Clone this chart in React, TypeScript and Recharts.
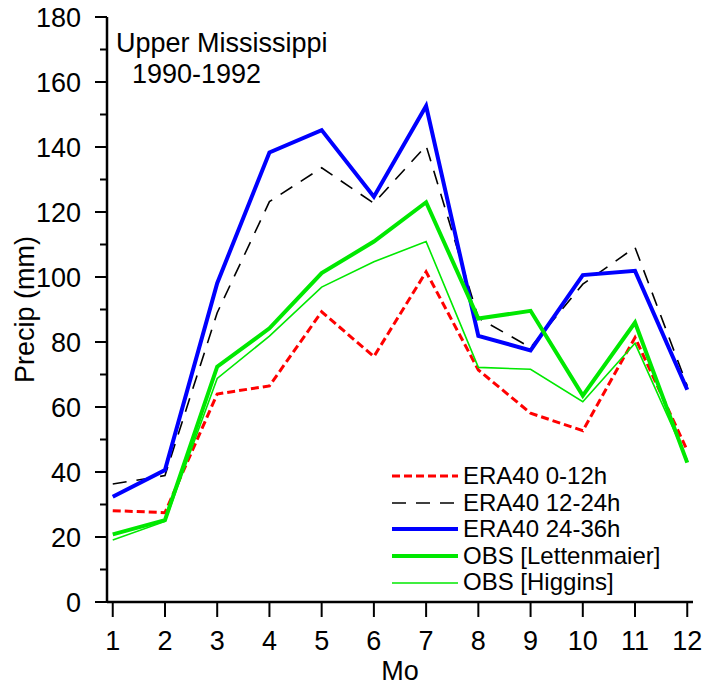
import { LineChart, Line, XAxis, YAxis, Label } from 'recharts';

const months = [1, 2, 3, 4, 5, 6, 7, 8, 9, 10, 11, 12];
const era0to12 = [28.1, 27.5, 64.0, 66.5, 89.3, 75.5, 101.6, 71.4, 58.1, 52.7, 81.4, 46.6];
const era12to24 = [36.3, 38.9, 89.0, 123.2, 133.6, 122.7, 140.4, 87.4, 78.3, 97.8, 109.1, 66.5];
const era24to36 = [32.4, 40.6, 98.1, 138.3, 145.2, 124.7, 152.6, 81.9, 77.4, 100.6, 101.9, 65.3];
const obsLettenmaier = [20.8, 25.2, 72.4, 84.2, 101.2, 110.9, 123.0, 87.2, 89.6, 63.5, 86.0, 42.9];
const obsHiggins = [19.1, 24.8, 68.8, 81.8, 96.9, 104.7, 110.9, 72.2, 71.6, 61.6, 79.6, 43.7];

const yTicks = [0, 10, 20, 30, 40, 50, 60, 70, 80, 90, 100, 110, 120, 130, 140, 150, 160, 170, 180];

const data = months.map((m, i) => ({
  month: m,
  era0to12: era0to12[i],
  era12to24: era12to24[i],
  era24to36: era24to36[i],
  obsLett: obsLettenmaier[i],
  obsHiggins: obsHiggins[i],
}));

const series = [
  { key: 'era0to12', name: 'ERA40 0-12h', color: '#ff0000', width: 3, dash: '8 4' },
  { key: 'era12to24', name: 'ERA40 12-24h', color: '#000000', width: 1.6, dash: '14 10' },
  { key: 'era24to36', name: 'ERA40 24-36h', color: '#0000ff', width: 4, dash: undefined },
  { key: 'obsLett', name: 'OBS [Lettenmaier]', color: '#00e800', width: 4, dash: undefined },
  { key: 'obsHiggins', name: 'OBS [Higgins]', color: '#00e800', width: 1.6, dash: undefined },
];

const FONT = '"Liberation Sans", Arial, sans-serif';
const FS = 27;

// y ticks: long ones with labels every 20, short ones between
function YTick(props: any) {
  const { x, y, payload } = props;
  const axisX = x + 26;
  const major = payload.value % 20 === 0;
  return (
    <g>
      <line x1={axisX - (major ? 12 : 7)} x2={axisX} y1={y} y2={y} stroke="#000" strokeWidth={2} />
      {major && (
        <text x={x} y={y} dy="0.36em" textAnchor="end" fontSize={FS} fontFamily={FONT} fill="#000">
          {payload.value}
        </text>
      )}
    </g>
  );
}

function LegendBox() {
  return (
    <div style={{ position: 'absolute', left: 392, top: 463, fontFamily: FONT, fontSize: 24, lineHeight: '26.6px', color: '#000' }}>
      {series.map(s => (
        <div key={s.key} style={{ display: 'flex', alignItems: 'center', whiteSpace: 'nowrap' }}>
          <svg width={66} height={10} style={{ marginRight: 5 }}>
            <line x1={0} x2={66} y1={5} y2={5} stroke={s.color} strokeWidth={s.width} strokeDasharray={s.dash} />
          </svg>
          <span>{s.name}</span>
        </div>
      ))}
    </div>
  );
}

export default function App() {
  return (
    <div style={{ position: 'absolute', left: 0, top: 0, width: 715, height: 687, background: '#fff' }}>
      <LineChart width={715} height={687} data={data} margin={{ top: 17, right: 22, left: 0, bottom: 0 }}>
        <XAxis
          dataKey="month"
          type="number"
          domain={[0.89, 12.11]}
          ticks={months}
          interval={0}
          height={85}
          tickSize={15}
          tickMargin={14}
          axisLine={{ stroke: '#000', strokeWidth: 2.5 }}
          tickLine={{ stroke: '#000', strokeWidth: 2 }}
          tick={{ fill: '#000', fontSize: FS, fontFamily: FONT }}
        >
          <Label value="Mo" position="insideBottom" offset={7} fill="#000" fontSize={FS} fontFamily={FONT} />
        </XAxis>
        <XAxis
          xAxisId="top"
          orientation="top"
          type="number"
          domain={[0.89, 12.11]}
          height={0}
          tick={false}
          tickLine={false}
          axisLine={{ stroke: '#000', strokeWidth: 2.5 }}
        />
        <YAxis
          domain={[0, 180]}
          ticks={yTicks}
          interval={0}
          width={107}
          tickSize={12}
          tickMargin={14}
          tickLine={false}
          axisLine={{ stroke: '#000', strokeWidth: 2.5 }}
          tick={<YTick />}
        >
          <Label
            content={({ viewBox }: any) => {
              const cx = viewBox.x + 24;
              const cy = viewBox.y + viewBox.height / 2;
              return (
                <text x={cx} y={cy} transform={`rotate(-90 ${cx} ${cy})`} textAnchor="middle" dy="0.36em"
                  fontSize={FS} fontFamily={FONT} fill="#000">
                  Precip (mm)
                </text>
              );
            }}
          />
        </YAxis>
        <YAxis
          yAxisId="right"
          orientation="right"
          domain={[0, 180]}
          width={0}
          tick={false}
          tickLine={false}
          axisLine={{ stroke: '#000', strokeWidth: 2.5 }}
        />
        {series.map(s => (
          <Line
            key={s.key}
            type="linear"
            dataKey={s.key}
            name={s.name}
            stroke={s.color}
            strokeWidth={s.width}
            strokeDasharray={s.dash}
            dot={false}
            activeDot={false}
            isAnimationActive={false}
          />
        ))}
        <text x={116} y={52} fontSize={FS} fontFamily={FONT} fill="#000">Upper Mississippi</text>
        <text x={132} y={83} fontSize={FS} fontFamily={FONT} fill="#000">1990-1992</text>
      </LineChart>
      <LegendBox />
    </div>
  );
}
